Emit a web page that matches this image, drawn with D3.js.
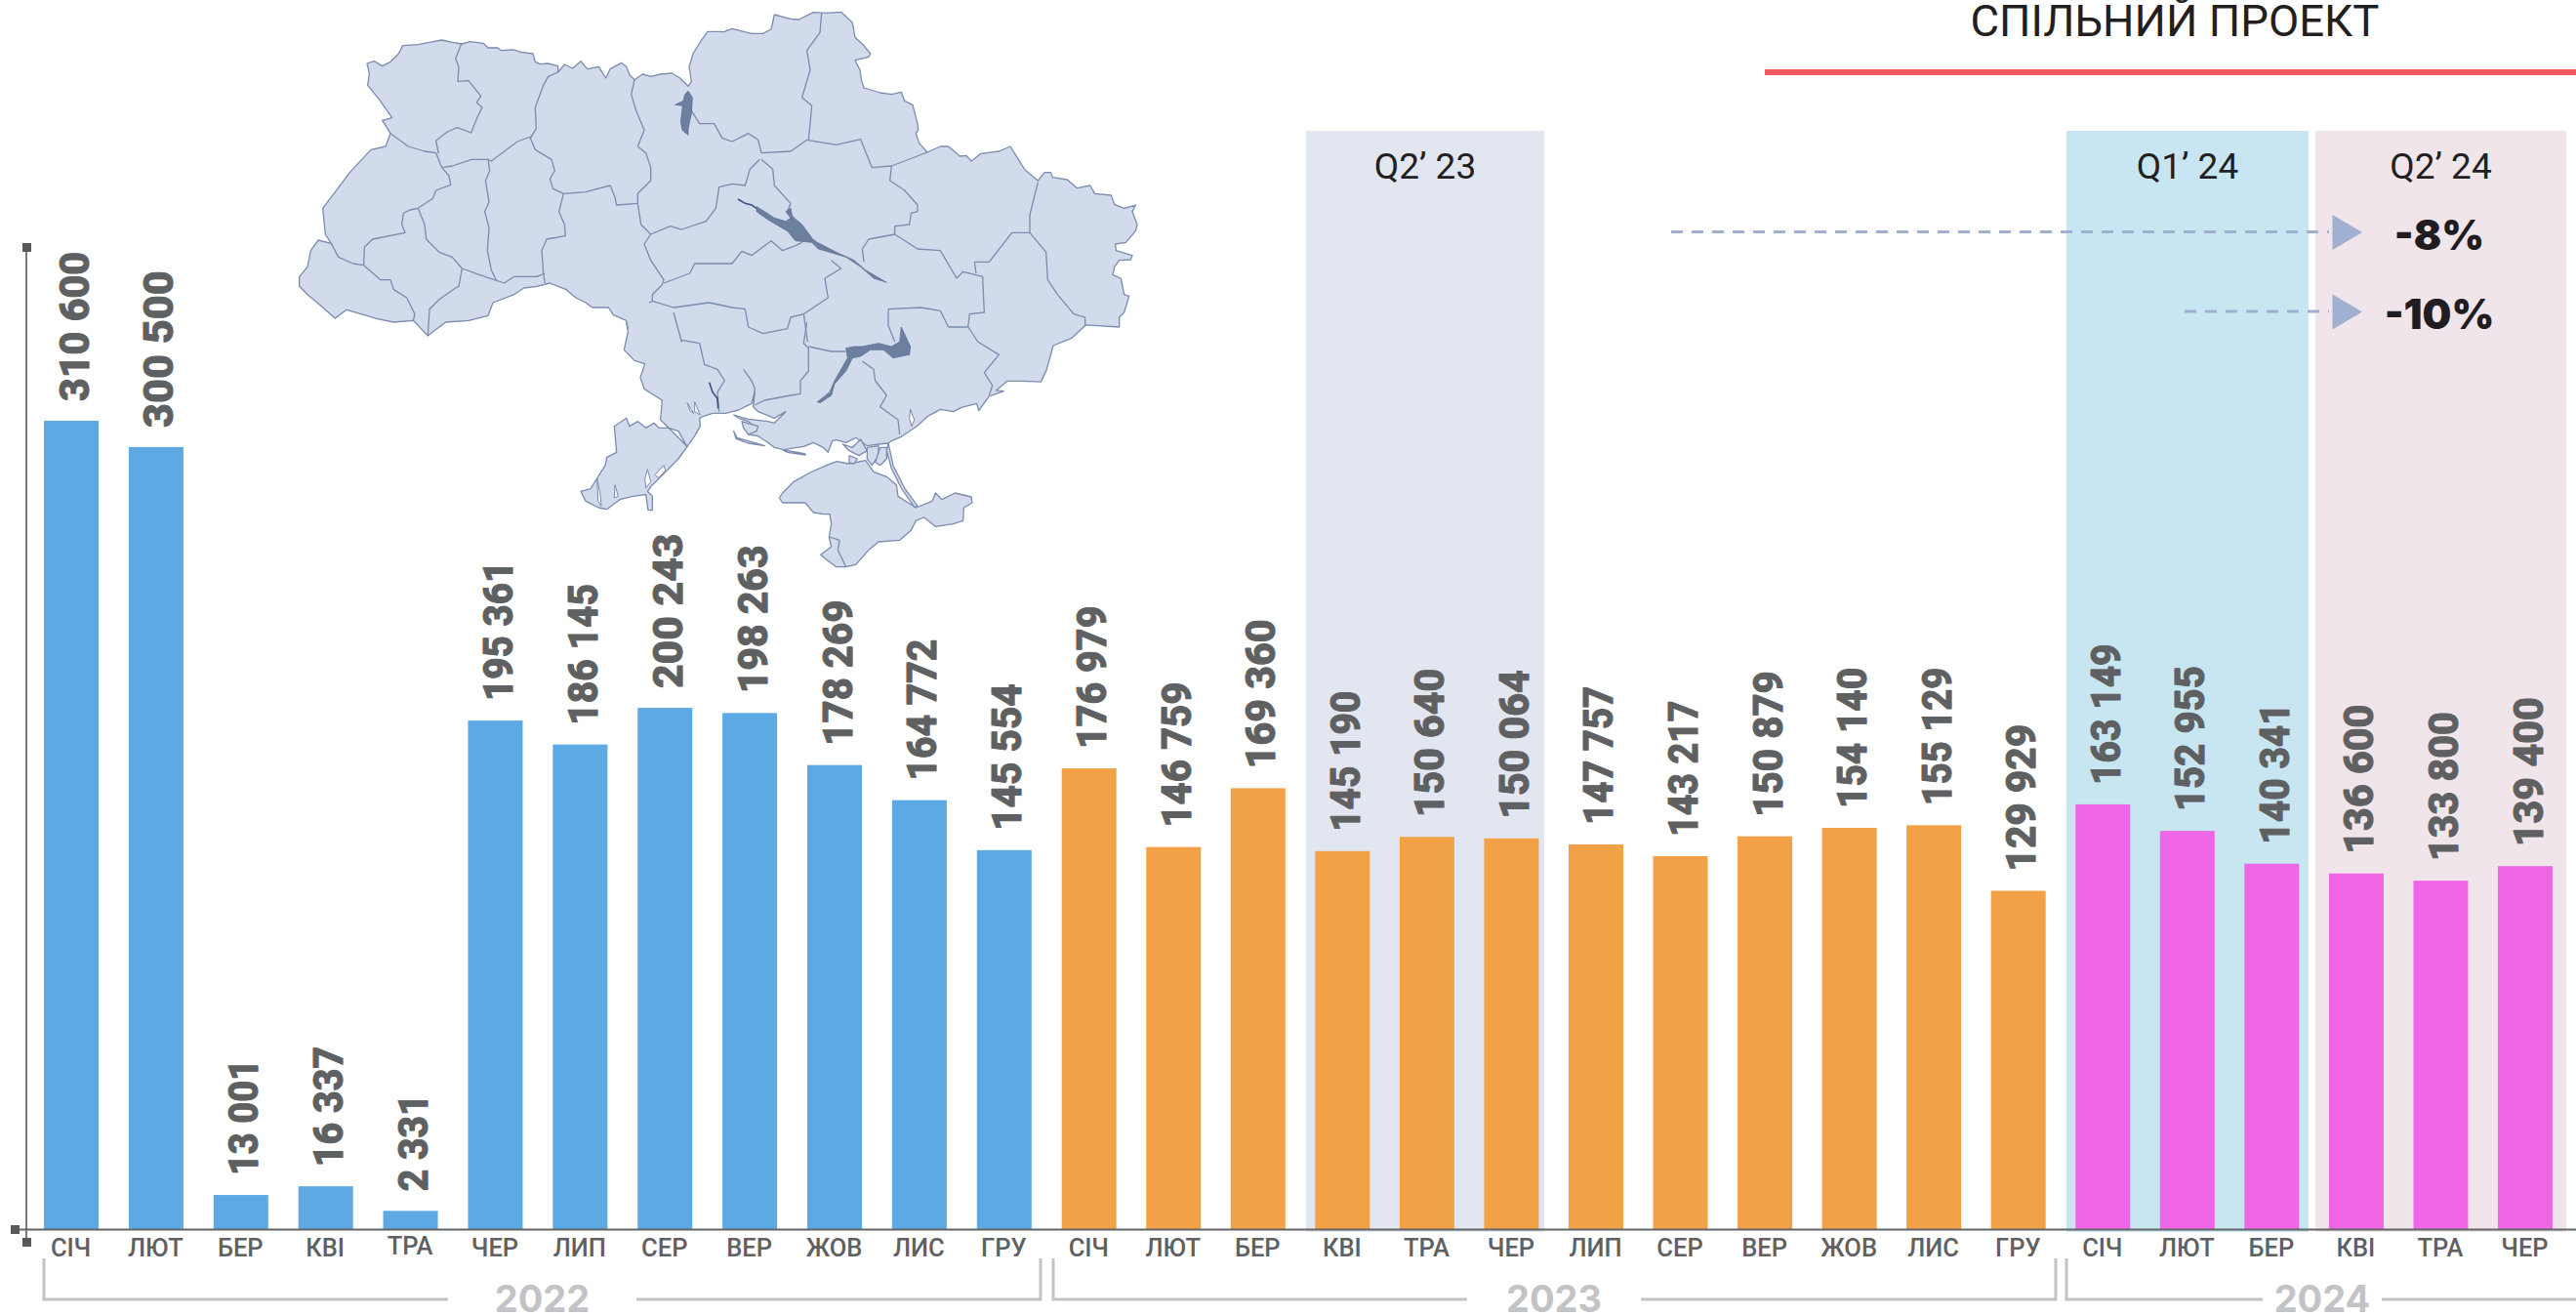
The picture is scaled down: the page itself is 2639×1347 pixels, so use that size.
<!DOCTYPE html>
<html><head><meta charset="utf-8">
<script src="https://cdn.jsdelivr.net/npm/d3@7/dist/d3.min.js"></script>
<style>html,body{margin:0;padding:0;background:#fff}svg{display:block}</style></head>
<body><svg id="c" width="2639" height="1347"></svg>
<script>
const months=["СІЧ","ЛЮТ","БЕР","КВІ","ТРА","ЧЕР","ЛИП","СЕР","ВЕР","ЖОВ","ЛИС","ГРУ","СІЧ","ЛЮТ","БЕР","КВІ","ТРА","ЧЕР","ЛИП","СЕР","ВЕР","ЖОВ","ЛИС","ГРУ","СІЧ","ЛЮТ","БЕР","КВІ","ТРА","ЧЕР"];
const labelValues=[310600,300500,13001,16337,2331,195361,186145,200243,198263,178269,164772,145554,176979,146759,169360,145190,150640,150064,147757,143217,150879,154140,155129,129929,163149,152955,140341,136600,133800,139400];
// drawn heights follow the picture: the May 2022 bar stands taller than its label says
const barValues=[310600,300500,13001,16337,6900,195361,186145,200243,198263,178269,164772,145554,176979,146759,169360,145190,150640,150064,147757,143217,150879,154140,155129,129929,163149,152955,140341,136600,133800,139400];
const barYears=[2022,2022,2022,2022,2022,2022,2022,2022,2022,2022,2022,2022,2023,2023,2023,2023,2023,2023,2023,2023,2023,2023,2023,2023,2024,2024,2024,2024,2024,2024];
const yearColors={2022:"#5ca9e4",2023:"#f2a146",2024:"#ee66e5"};
const quarterNames=["Q2’ 23","Q1’ 24","Q2’ 24"];
const changes=["-8%","-10%"];

const svg=d3.select("#c");
const BW=56;
const x=d3.scaleLinear().domain([0,12,29]).range([73,1115.7,2587]);
const y=d3.scaleLinear().domain([0,310600]).range([1258.7,431]);
const AXY=1259.5;
const fmt=v=>d3.format(",")(v).replace(/,/g," ");
const ROB='Roboto,sans-serif';
const C_LINE="#7c8bae", C_FILL="#d1dbec", C_WATER="#6d7f9f";
// proportional figure widths of the label typeface, in px
const glyphW={"0":25.5,"1":17,"2":24,"3":25,"4":25.5,"5":24.5,"6":25.5,"7":22,"8":26,"9":25.5," ":9};
const labelLen=s=>d3.sum(Array.from(s),c=>glyphW[c]);

// quarter panels
const panels=[{n:quarterNames[0],x0:1338,x1:1582,c:"#e1e6f1"},{n:quarterNames[1],x0:2117,x1:2365,c:"#c8e6f1"},{n:quarterNames[2],x0:2372,x1:2629,c:"#f0e5ea"}];
svg.selectAll("rect.p").data(panels).join("rect").attr("class","p").attr("x",d=>d.x0).attr("y",134).attr("width",d=>d.x1-d.x0).attr("height",1128).attr("fill",d=>d.c);
svg.selectAll("text.q").data(panels).join("text").attr("class","q").attr("x",d=>(d.x0+d.x1)/2).attr("y",183).attr("text-anchor","middle").attr("font-family",ROB).attr("font-size",37).attr("fill","#231f20").text(d=>d.n);

// map: decorative traced outline; pieces are in the units of three crops plus one overview
const crops={A:[300,0,1/3,1/3],B:[750,0,1/3,1/3],C:[580,330,1/3,1/3],M:[280,0,.574,.3827]};
const P=(k,s)=>{const c=crops[k];return s.trim().split(/\s+/).map(t=>{const[a,b]=t.split(",").map(Number);return [c[0]+a*c[2],c[1]+b*c[3]];});};
const lineGen=d3.line();
const outlinePts=[].concat(
P("A","228,195 250,188 275,203 300,190 325,165 338,140 385,137 420,130 458,123 490,130 520,135 545,128 585,133 600,147 630,147 640,155 680,153 700,160 738,165 745,190 760,197 785,195 815,203 815,222 835,198 860,210 885,188 905,212 940,205 962,240 975,212 1010,193 1025,205 1035,230 1050,245 1075,228 1100,235 1130,228 1165,225 1190,240 1215,265 1225,250 1218,205 1230,165 1255,125 1275,97 1310,97 1325,98"),
P("B","0,88 60,103 95,103 120,90 130,45 180,58 205,60 250,38 290,40 335,37 370,70 378,115 405,140 425,165 420,175 378,185 393,215 397,245 405,270 455,285 490,290 520,283 530,310 555,322 570,380 572,400 565,410 575,440 600,468 640,450 665,450 700,480 720,478 735,495 765,472 820,465 855,450 880,490 900,522 940,555 960,530 980,530 985,545 1030,552 1060,578 1100,570 1115,595 1165,600 1175,628 1205,640 1240,630 1230,650 1245,690 1240,710 1210,745 1178,750 1180,770 1230,785 1225,798 1190,800 1175,820 1170,845 1195,855 1205,905 1220,910 1205,960 1190,975 1190,1005"),
P("M","1450,870 1425,905 1392,925 1380,990 1370,1022 1335,1020 1310,1020 1290,1045"),
P("C","1345,212 1300,228 1268,272 1262,250 1215,262 1190,275 1150,268 1110,290 1080,318 1055,335 1030,352 1000,365 990,372 960,375 925,380 890,355 860,370 830,362 818,365 805,400 790,385 760,370 730,382 690,388 670,392 640,385 620,370 590,350 560,345 585,325 560,305 530,295 515,285 560,298 620,305 640,310 675,275 640,295 590,275 575,260 580,212 570,250 530,270 510,275 490,280 450,280 420,290 410,295 412,320 395,350 370,385 345,420 310,455 265,500 250,520 265,535 265,578 252,578 245,530 205,535 165,545 125,575 100,570 60,550 45,520 75,512 95,480 120,440 125,415 155,400 148,320 185,295 195,320 220,305 245,325 270,310 285,325 315,325 345,355 370,380 345,335 315,325 290,300 295,240 240,205 228,170 242,128 210,118 178,85 190,30 185,0"),
P("A","1030,1010 1025,985 985,968 970,945 920,945 900,930 870,915 840,890 790,870 750,880 710,885 680,905 615,930 600,970 540,985 470,990 430,1020 415,1032 385,1000 370,985 310,990 260,980 210,965 165,952 130,978 115,965 75,930 45,905 20,880 20,850 45,820 55,770 78,738 118,748 100,720 92,640 130,590 175,530 240,460 285,450 300,410 275,370 305,362 265,305 230,262 235,225"));
const crimeaPts=P("C","655,540 665,525 700,490 750,462 800,440 832,428 870,435 920,425 945,460 985,475 1015,500 1020,535 1075,570 1125,550 1135,525 1155,545 1195,525 1245,537 1248,555 1222,570 1220,610 1190,620 1135,628 1100,600 1075,610 1060,640 1025,670 960,675 930,700 890,745 860,752 830,752 800,730 782,715 815,690 808,660 815,620 810,590 790,590 760,585 735,555 690,555 665,555");
const land=[outlinePts,crimeaPts,
 P("C","990,372 1005,440 1040,510 1080,565 1070,568 1030,510 1000,450 985,395"),
 P("C","850,375 880,385 905,360 925,395 900,410 870,395"),
 P("C","870,410 895,420 885,435 870,432"),
 P("C","925,385 960,380 960,410 940,440 925,420"),
 P("C","965,385 985,385 985,420 965,440 950,430"),
 P("C","515,335 525,355 560,365 610,380 560,372 522,358"),
 P("C","665,392 735,405 735,408 680,400"),
 P("C","540,305 590,320 585,335 560,345 545,325")];
const map=svg.append("g");
map.selectAll("path.l").data(land).join("path").attr("class","l").attr("d",d=>lineGen(d)+"Z").attr("fill",C_FILL).attr("stroke",C_LINE).attr("stroke-width",1.3).attr("stroke-linejoin","round");
const lakes=[P("C","95,480 105,530 108,565 98,550"),P("C","150,500 160,535 148,540"),P("C","250,452 260,490 245,510 242,480"),P("C","272,470 300,440 305,455 285,478"),P("C","1058,268 1070,300 1062,320 1055,295"),P("C","372,248 392,280 380,272"),P("C","395,245 412,285 395,275")];
map.selectAll("path.k").data(lakes).join("path").attr("class","k").attr("d",d=>lineGen(d)+"Z").attr("fill","#fff").attr("stroke",C_LINE).attr("stroke-width",1);
const borders=[
P("A","518,135 500,180 510,205 507,250 540,248 578,295 565,315 582,330 565,365 548,408 505,392 475,405 440,432 448,472"),
P("A","300,410 355,450 405,465 440,470 458,515 480,540 485,568 440,585 430,610 385,640 360,645 340,655 335,690 345,715 245,735 220,760 218,815"),
P("A","118,748 140,790 185,810 218,815 270,860 300,860 310,890 350,915 375,965 370,985"),
P("A","385,640 405,690 410,735 450,775 490,790 520,825 575,845 620,860 650,870 680,850 750,850 775,840"),
P("A","520,825 510,880 500,885 450,920 420,950 415,1032"),
P("A","458,515 490,510 550,490 600,490 610,495 690,435 730,420"),
P("A","600,490 605,525 592,555 603,620 590,650 603,700 598,770 610,830 625,860"),
P("A","815,222 785,235 770,262 745,330 748,395 730,425 745,460 795,490 805,525 790,550 800,580 832,595"),
P("A","832,595 900,590 975,570 990,605 995,630 1060,625 1060,595 1100,555 1100,515 1085,470 1060,450 1080,400 1055,340 1040,290 1050,245"),
P("A","832,595 818,650 835,690 838,725 780,735 765,770 770,840 775,870"),
P("A","1060,625 1070,690 1100,720 1160,695 1195,705 1270,680 1300,640 1310,575 1350,565").concat(P("B","40,570 55,520 85,490")),
P("A","1225,310 1225,340 1250,380 1295,380 1320,425 1350,435").concat(P("B","50,410 80,430 90,470")),
P("A","1100,720 1080,750 1100,800 1140,860 1135,875 1105,905 1105,925 1095,930"),
P("A","1105,925 1170,945 1280,930 1350,945").concat(P("B","40,950 50,1005 95,1025 170,1010 180,975 220,965")),
P("A","1140,870 1220,840 1235,810 1350,810").concat(P("B","30,772 60,785 120,740 155,770 195,755 215,745")),
P("A","1170,960 1195,1050").concat(P("C","355,55 410,65 425,130 465,145 487,180 465,215 470,275")),
P("C","740,0 730,65 745,80 745,150 720,180 720,220 690,225 610,240 580,255"),
P("B","305,800 335,825 285,855 295,915 220,965 232,1050"),
P("B","90,490 125,520 130,570 180,625 170,650 190,670"),
P("B","90,470 180,465 230,430 320,445 395,428 430,515 490,510 600,468"),
P("B","275,40 270,100 230,155 240,215 215,300 245,325 235,430"),
P("B","490,510 485,555 530,585 570,630 570,650 550,655 545,690 500,695 500,720 420,735 400,765 405,805"),
P("B","500,720 570,765 640,770 690,855 710,835 770,850 775,960 730,965 725,1005"),
P("B","745,805 750,840"),
P("B","745,805 790,805 860,715 915,715"),
P("B","940,560 915,660 915,715 965,775 970,860 1000,905 1050,965 1085,975 1085,1003"),
P("B","480,950 580,945 640,955 665,1005 725,1005"),
P("B","480,950 480,1000 500,1050"),
P("C","745,75 815,90 860,90"),
P("C","910,120 945,145 950,180 985,225 965,260 1020,300 1025,345"),
P("C","1236,15 1265,60 1330,100 1285,155 1310,195 1300,225"),
P("C","810,660 840,670 835,700 860,752"),
P("C","545,145 570,180 580,205 575,250")];
map.selectAll("path.b").data(borders).join("path").attr("class","b").attr("d",d=>lineGen(d)).attr("fill","none").attr("stroke",C_LINE).attr("stroke-width",1.3).attr("stroke-linejoin","round");
const water=[P("A","1215,280 1228,300 1225,350 1215,395 1215,415 1197,400 1192,375 1198,325 1175,322 1200,310 1205,290"),
P("B","75,635 100,650 130,670 165,680 180,670 165,650 180,640 185,665 215,690 248,735 262,745 320,775 375,800 410,830 475,868 435,855 395,820 350,790 300,775 265,765 245,745 195,740 170,710 110,675 75,650"),
P("C","1030,15 1058,75 1055,100 1005,110 975,85 935,85 905,105 880,110 860,150 825,190 815,225 780,248 772,245 810,215 825,180 865,110 860,80 885,75 910,75 935,70 960,65 1000,75 1025,60")];
map.selectAll("path.w").data(water).join("path").attr("class","w").attr("d",d=>lineGen(d)+"Z").attr("fill",C_WATER).attr("stroke","#5f7196").attr("stroke-width",.8);
const rivers=[P("B","18,612 40,625 60,630 75,640"),P("C","440,185 450,215 465,235 467,265")];
map.selectAll("path.r").data(rivers).join("path").attr("class","r").attr("d",d=>lineGen(d)).attr("fill","none").attr("stroke","#3d4f80").attr("stroke-width",1.6);

// bars
svg.selectAll("rect.bar").data(barValues).join("rect").attr("class","bar")
 .attr("x",(d,i)=>x(i)-BW/2).attr("width",BW).attr("y",d=>y(d)).attr("height",d=>AXY-y(d)).attr("fill",(d,i)=>yearColors[barYears[i]]);

// axes
svg.append("line").attr("x1",27).attr("x2",27).attr("y1",253).attr("y2",1273).attr("stroke","#77787a").attr("stroke-width",2);
svg.append("line").attr("x1",16).attr("x2",2639).attr("y1",AXY).attr("y2",AXY).attr("stroke","#636466").attr("stroke-width",2);
[[23,249],[11,1255],[23,1268]].forEach(p=>svg.append("rect").attr("x",p[0]).attr("y",p[1]).attr("width",9).attr("height",9).attr("fill","#58595b"));

const xAxis=d3.axisBottom(x).tickValues(d3.range(months.length)).tickSize(0).tickPadding(0).tickFormat(i=>months[i]);
const gx=svg.append("g").attr("transform","translate(-1,1263)").call(xAxis);
gx.select(".domain").remove();
gx.selectAll("text").attr("y",(d,i)=>i===4?22:24).attr("dy",0).attr("font-family",ROB).attr("font-weight",500).attr("font-size",25.5).attr("fill","#5f6062");

// value labels
svg.selectAll("text.v").data(labelValues).join("text").attr("class","v")
 .attr("transform",(d,i)=>`translate(${x(i)+17.5},${y(barValues[i])-20}) rotate(-90)`)
 .attr("font-family",ROB).attr("font-weight",800).attr("font-size",42).attr("fill","#5f6062").attr("stroke","#5f6062").attr("stroke-width",1).attr("stroke-linejoin","round")
 .attr("textLength",d=>labelLen(fmt(d))).attr("lengthAdjust","spacingAndGlyphs").text(fmt);

// year brackets
const brackets=[{t:"2022",l:45,r:1066,g0:459,g1:652},{t:"2023",l:1079,r:2106,g0:1503,g1:1681},{t:"2024",l:2117,r:2650,g0:2318,g1:2440}];
const bc="#c2c3c7";
brackets.forEach(b=>{
 svg.append("path").attr("fill","none").attr("stroke",bc).attr("stroke-width",3)
  .attr("d",lineGen([[b.l,1289],[b.l,1331],[b.g0,1331]])+lineGen([[b.g1,1331],[b.r,1331],[b.r,1289]]));
 svg.append("text").attr("x",(b.g0+b.g1)/2).attr("y",1344).attr("text-anchor","middle").attr("font-family","Inter,sans-serif").attr("font-weight",700).attr("font-size",38).attr("fill",bc).text(b.t);
});

// title
svg.append("text").attr("x",2228).attr("y",37).attr("text-anchor","middle").attr("font-family",ROB).attr("font-size",44).attr("textLength",419).attr("lengthAdjust","spacingAndGlyphs").attr("fill","#231f20").text("СПІЛЬНИЙ ПРОЕКТ");
svg.append("rect").attr("x",1808).attr("y",71).attr("width",831).attr("height",6).attr("fill","#f05a5f");

// change arrows
const arrows=[{t:changes[0],y:238,x0:1712},{t:changes[1],y:319.5,x0:2238}];
arrows.forEach(a=>{
 svg.append("line").attr("x1",a.x0).attr("x2",2386).attr("y1",a.y-.5).attr("y2",a.y-.5).attr("stroke","#9fb0d0").attr("stroke-width",3).attr("stroke-dasharray","12 9");
 svg.append("path").attr("d",lineGen([[2389.5,a.y-18],[2420,a.y],[2389.5,a.y+18]])+"Z").attr("fill","#9fb0d0");
 svg.append("text").attr("x",2499).attr("y",a.y+17.5).attr("text-anchor","middle").attr("font-family","Inter,sans-serif").attr("font-weight",900).attr("font-size",42).attr("fill","#1f1d1f").text(a.t);
});
</script></body></html>
